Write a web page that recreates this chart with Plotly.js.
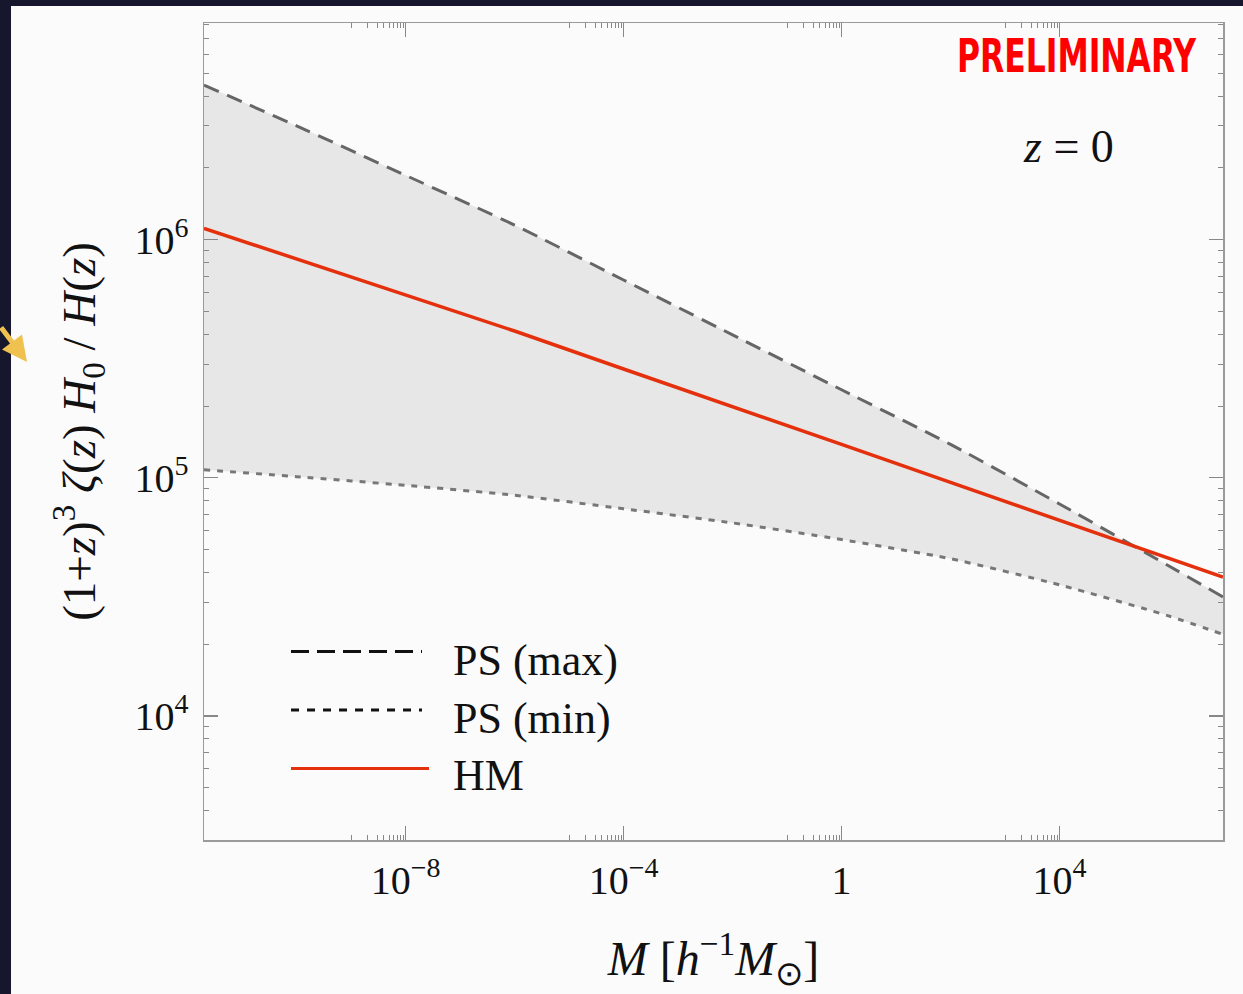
<!DOCTYPE html>
<html>
<head>
<meta charset="utf-8">
<script src="https://cdn.plot.ly/plotly-3.0.1.min.js"></script>
<style>
  html, body { margin: 0; padding: 0; background: #16162c; }
  #chart { width: 1243px; height: 994px; }
</style>
</head>
<body>
<div id="chart"></div>
<script>
// ---- data ----
const massM  = [2e-12, 1e-10, 1e-8, 1e-6, 1e-4, 1e-2, 1, 1e2, 1e4, 1e6, 1e7];
const psMax  = [4.45e6, 3.00e6, 1.86e6, 1.15e6, 6.76e5, 3.98e5, 2.34e5, 1.38e5, 7.76e4, 4.27e4, 3.16e4];
const psMin  = [1.08e5, 1.01e5, 9.29e4, 8.44e4, 7.41e4, 6.46e4, 5.50e4, 4.57e4, 3.55e4, 2.63e4, 2.20e4];
const hmVals = [1.114e6, 8.28e5, 5.85e5, 4.13e5, 2.86e5, 1.99e5, 1.38e5, 9.55e4, 6.62e4, 4.59e4, 3.83e4];

const xTickVals = [1e-8, 1e-4, 1, 1e4];
const xTickText = ['10<sup>−8</sup>', '10<sup>−4</sup>', '1', '10<sup>4</sup>'];
const yTickVals = [1e4, 1e5, 1e6];
const yTickText = ['10<sup>4</sup>', '10<sup>5</sup>', '10<sup>6</sup>'];
const legendNames = ['PS (max)', 'PS (min)', 'HM'];

// minor ticks: x only in the decade below each labelled tick; y every 2..9
const xMinor = [];
xTickVals.forEach(v => { for (let k = 1; k <= 9; k++) xMinor.push(v / 10 * k); });
const yMinor = [];
[1e3, 1e4, 1e5, 1e6].forEach(d => { for (let k = 2; k <= 9; k++) yMinor.push(d * k); });

// ---- page geometry helpers (pixels -> paper) ----
const W = 1243, H = 994, ML = 204, MR = 20, MT = 23, MB = 154;
const PW = W - ML - MR, PH = H - MT - MB;
const px = x => (x - ML) / PW;
const py = y => (H - MB - y) / PH;

const serif = '"Liberation Serif", "Times New Roman", Times, serif';

const traces = [
  { x: massM, y: psMin, type: 'scatter', mode: 'lines', name: legendNames[1],
    line: { color: '#777777', width: 3, dash: '6px,7px', shape: 'spline', smoothing: 0.6 },
    showlegend: false, hoverinfo: 'skip' },
  { x: massM, y: psMax, type: 'scatter', mode: 'lines', name: legendNames[0],
    fill: 'tonexty', fillcolor: '#e7e7e7',
    line: { color: '#666666', width: 3, dash: '16px,9px', shape: 'spline', smoothing: 0.6 },
    showlegend: false, hoverinfo: 'skip' },
  { x: massM, y: hmVals, type: 'scatter', mode: 'lines', name: legendNames[2],
    line: { color: '#e4300c', width: 3.5 },
    showlegend: false, hoverinfo: 'skip' }
];

const legY = [651.5, 710, 768.5];
const shapes = [
  // white slide panel
  { type: 'rect', xref: 'paper', yref: 'paper', layer: 'below',
    x0: px(11), x1: px(1260), y0: py(1010), y1: py(6),
    fillcolor: '#fbfbfb', line: { width: 0 } },
  // legend samples
  { type: 'line', xref: 'paper', yref: 'paper', x0: px(291), x1: px(422), y0: py(legY[0]), y1: py(legY[0]),
    line: { color: '#111', width: 3.2, dash: '18px,8px' } },
  { type: 'line', xref: 'paper', yref: 'paper', x0: px(291), x1: px(422), y0: py(legY[1]), y1: py(legY[1]),
    line: { color: '#111', width: 3.2, dash: '8px,8px' } },
  { type: 'line', xref: 'paper', yref: 'paper', x0: px(291), x1: px(429), y0: py(legY[2]), y1: py(legY[2]),
    line: { color: '#e4300c', width: 3.2 } }
];

const annotations = [
  { xref: 'paper', yref: 'paper', x: px(451), y: py(660), xanchor: 'left', yanchor: 'middle',
    text: legendNames[0], showarrow: false, font: { family: serif, size: 44, color: '#111' } },
  { xref: 'paper', yref: 'paper', x: px(451), y: py(718), xanchor: 'left', yanchor: 'middle',
    text: legendNames[1], showarrow: false, font: { family: serif, size: 44, color: '#111' } },
  { xref: 'paper', yref: 'paper', x: px(451), y: py(775), xanchor: 'left', yanchor: 'middle',
    text: legendNames[2], showarrow: false, font: { family: serif, size: 44, color: '#111' } },
  { xref: 'paper', yref: 'paper', x: px(1199), y: py(55), xanchor: 'right', yanchor: 'middle',
    text: '<b>PRELIMINARY</b>', showarrow: false,
    font: { family: '"DejaVu Sans Condensed", "Liberation Sans Narrow", "Liberation Sans", sans-serif', size: 47, color: '#ff0000' } },
  { xref: 'paper', yref: 'paper', x: px(1068), y: py(147), xanchor: 'center', yanchor: 'middle',
    text: '<i>z</i> = 0', showarrow: false, font: { family: serif, size: 46, color: '#111' } },
  // yellow arrow at the left edge of the slide
  { xref: 'paper', yref: 'paper', x: px(27), y: py(362), text: '', showarrow: true,
    ax: -32, ay: -36, arrowhead: 2, arrowsize: 1, arrowwidth: 5, arrowcolor: '#efc14f' }
];

const layout = {
  width: W, height: H,
  margin: { l: ML, r: MR, t: MT, b: MB },
  paper_bgcolor: '#16162c',
  plot_bgcolor: '#fdfdfd',
  font: { family: serif, color: '#111' },
  showlegend: false,
  xaxis: {
    type: 'log',
    range: [Math.log10(2e-12), 7],
    tickmode: 'array', tickvals: xTickVals, ticktext: xTickText,
    ticks: 'inside', ticklen: 14, tickwidth: 1.2, tickcolor: '#888',
    minor: { tickmode: 'array', tickvals: xMinor, ticks: 'inside', ticklen: 5, tickwidth: 1, tickcolor: '#888' },
    showline: true, linecolor: '#9a9a9a', linewidth: 1.5, mirror: 'ticks',
    showgrid: false, zeroline: false,
    tickfont: { family: serif, size: 40, color: '#111' },
    ticklabelstandoff: 4,
    title: { text: '<i>M</i> [<i>h</i><sup>−1</sup><i>M</i><sub>⊙</sub>]', standoff: 40,
             font: { family: serif, size: 48, color: '#111' } }
  },
  yaxis: {
    type: 'log',
    range: [3.479, 6.909],
    tickmode: 'array', tickvals: yTickVals, ticktext: yTickText,
    ticks: 'inside', ticklen: 14, tickwidth: 1.2, tickcolor: '#888',
    minor: { tickmode: 'array', tickvals: yMinor, ticks: 'inside', ticklen: 5, tickwidth: 1, tickcolor: '#888' },
    showline: true, linecolor: '#9a9a9a', linewidth: 1.5, mirror: 'ticks',
    showgrid: false, zeroline: false,
    tickfont: { family: serif, size: 40, color: '#111' },
    ticklabelstandoff: 6,
    title: { text: '(1+<i>z</i>)<sup>3</sup> <i>ζ</i>(<i>z</i>) <i>H</i><sub>0</sub> / <i>H</i>(<i>z</i>)', standoff: 24,
             font: { family: serif, size: 47, color: '#111' } }
  },
  shapes: shapes,
  annotations: annotations
};

Plotly.newPlot('chart', traces, layout, { staticPlot: true, displayModeBar: false }).then(gd => {
  // condense the PRELIMINARY stamp horizontally (Impact-like look), anchored at its right edge
  gd.querySelectorAll('text.annotation-text').forEach(t => {
    if (t.textContent === 'PRELIMINARY') {
      const bb = t.getBBox();
      const target = 240;
      const s = target / bb.width;
      const R = bb.x + bb.width;
      t.setAttribute('transform', 'translate(' + R + ',0) scale(' + s + ',1) translate(' + (-R) + ',0)');
    }
  });
});
</script>
</body>
</html>
